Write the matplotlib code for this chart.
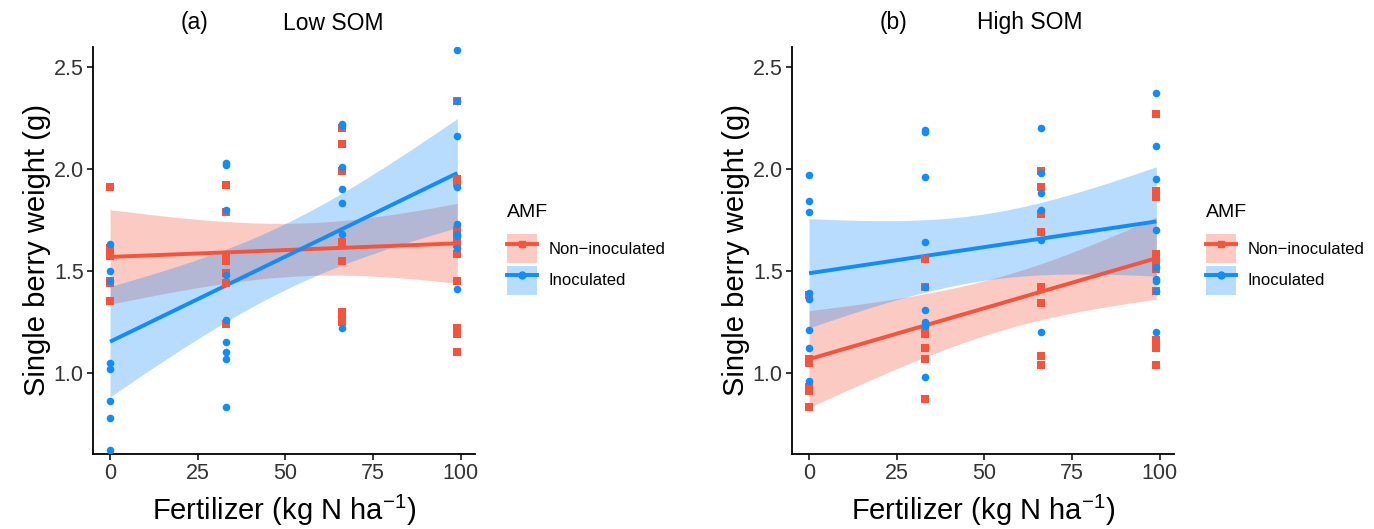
import numpy as np
import matplotlib.pyplot as plt
from matplotlib.patches import Patch
from matplotlib.lines import Line2D

plt.rcParams['font.family'] = ['Liberation Sans', 'DejaVu Sans']

# fertilizer levels (kg N / ha) and single berry weight (g)
# Low SOM, non-inoculated
low_non_x = [0] * 7 + [33] * 7 + [66] * 8 + [99] * 11
low_non_y = [1.91, 1.61, 1.59, 1.57, 1.45, 1.44, 1.35,
             1.92, 1.79, 1.57, 1.55, 1.49, 1.44, 1.24,
             2.20, 2.12, 1.99, 1.64, 1.55, 1.30, 1.27, 1.25,
             2.33, 1.95, 1.93, 1.70, 1.66, 1.63, 1.58, 1.45, 1.22, 1.19, 1.10]
# Low SOM, inoculated
low_ino_x = [0] * 8 + [33] * 9 + [66] * 7 + [99] * 9
low_ino_y = [1.63, 1.50, 1.45, 1.05, 1.02, 0.86, 0.78, 0.62,
             2.03, 2.02, 1.80, 1.48, 1.26, 1.15, 1.10, 1.07, 0.83,
             2.22, 2.21, 2.01, 1.90, 1.83, 1.68, 1.22,
             2.58, 2.33, 2.16, 1.91, 1.73, 1.68, 1.67, 1.61, 1.41]
# High SOM, non-inoculated
high_non_x = [0] * 7 + [33] * 7 + [66] * 8 + [99] * 11
high_non_y = [1.38, 1.07, 1.06, 1.05, 0.93, 0.91, 0.83,
              1.56, 1.42, 1.21, 1.19, 1.12, 1.07, 0.87,
              1.99, 1.91, 1.78, 1.69, 1.42, 1.34, 1.08, 1.04,
              2.27, 1.89, 1.86, 1.58, 1.55, 1.51, 1.40, 1.16, 1.14, 1.12, 1.04]
# High SOM, inoculated
high_ino_x = [0] * 8 + [33] * 9 + [66] * 6 + [99] * 9
high_ino_y = [1.97, 1.84, 1.79, 1.39, 1.36, 1.21, 1.12, 0.96,
              2.19, 2.18, 1.96, 1.64, 1.42, 1.31, 1.25, 1.23, 0.98,
              2.20, 1.98, 1.88, 1.80, 1.65, 1.20,
              2.37, 2.11, 1.95, 1.70, 1.52, 1.46, 1.45, 1.40, 1.20]

panel_titles = [("(a)", "Low SOM"), ("(b)", "High SOM")]
group_labels = ["Non\u2212inoculated", "Inoculated"]

RED = "#F5533B"
BLUE = "#118CFB"
T_MULT = 2.4  # width of the confidence ribbon in standard errors


def fit_band(x, y, xs):
    x = np.asarray(x, float)
    y = np.asarray(y, float)
    b, a = np.polyfit(x, y, 1)
    resid = y - (a + b * x)
    n = len(x)
    s = np.sqrt(np.sum(resid ** 2) / (n - 2))
    sxx = np.sum((x - x.mean()) ** 2)
    se = s * np.sqrt(1.0 / n + (xs - x.mean()) ** 2 / sxx)
    yhat = a + b * xs
    return yhat, yhat - T_MULT * se, yhat + T_MULT * se


fig = plt.figure(figsize=(13.74, 5.29), dpi=100)
ax_a = fig.add_axes([92.7 / 1374, 1 - 454 / 529, 382 / 1374, 407.3 / 529])
ax_b = fig.add_axes([791.7 / 1374, 1 - 454 / 529, 382 / 1374, 407.3 / 529])

panels = [
    (ax_a, (low_non_x, low_non_y), (low_ino_x, low_ino_y)),
    (ax_b, (high_non_x, high_non_y), (high_ino_x, high_ino_y)),
]

xs = np.linspace(0, 99, 120)
for ax, non, ino in panels:
    for (x, y), col in [(non, RED), (ino, BLUE)]:
        yhat, lo, hi = fit_band(x, y, xs)
        ax.fill_between(xs, lo, hi, color=col, alpha=0.3, linewidth=0, zorder=1)
    for (x, y), col in [(non, RED), (ino, BLUE)]:
        yhat, lo, hi = fit_band(x, y, xs)
        ax.plot(xs, yhat, color=col, linewidth=2.8, zorder=2, solid_capstyle='butt')
    ax.scatter(non[0], non[1], marker='s', s=30, color=RED, linewidths=0, zorder=3)
    ax.scatter(ino[0], ino[1], marker='o', s=30, color=BLUE, linewidths=0, zorder=4)

    ax.set_xlim(-4.95, 103.95)
    ax.set_ylim(0.602, 2.598)
    ax.set_xticks([0, 25, 50, 75, 100])
    ax.set_yticks([1.0, 1.5, 2.0, 2.5])
    ax.set_yticklabels(["1.0", "1.5", "2.0", "2.5"])
    for side in ['top', 'right']:
        ax.spines[side].set_visible(False)
    for side in ['left', 'bottom']:
        ax.spines[side].set_linewidth(1.3)
    ax.tick_params(axis='both', length=4.5, width=1.1, labelsize=15.5,
                   labelcolor='#333333', pad=2)
    ax.set_ylabel("Single berry weight (g)", fontsize=21, labelpad=2)
    ax.set_xlabel("Fertilizer (kg N ha$^{\\mathregular{-1}}$)", fontsize=21, labelpad=6)

    # legend: title as separate text, keys = ribbon patch + line + marker
    pos = ax.get_position()
    lx = pos.x1 + 32 / 1374
    fig.text(lx, 1 - 212.5 / 529, "AMF", fontsize=14, ha='left', va='center')
    handles = [
        (Patch(facecolor=RED, alpha=0.3, linewidth=0),
         Line2D([], [], color=RED, linewidth=2.8, marker='s', markersize=5)),
        (Patch(facecolor=BLUE, alpha=0.3, linewidth=0),
         Line2D([], [], color=BLUE, linewidth=2.8, marker='o', markersize=5)),
    ]
    fig.legend(handles, group_labels, loc='upper left',
               bbox_to_anchor=(lx, 1 - 234 / 529),
               frameon=False, fontsize=12,
               handlelength=1.8, handleheight=2.3, handletextpad=0.7,
               labelspacing=0.15, borderpad=0, borderaxespad=0)

# panel titles
for (tag, name), xt, xn in zip(panel_titles, [195, 893], [333, 1030]):
    fig.text(xt / 1374, 1 - 23 / 529, tag, fontsize=16.5, ha='center', va='center')
    fig.text(xn / 1374, 1 - 23 / 529, name, fontsize=16.5, ha='center', va='center')

fig.savefig("out.png", dpi=100)
